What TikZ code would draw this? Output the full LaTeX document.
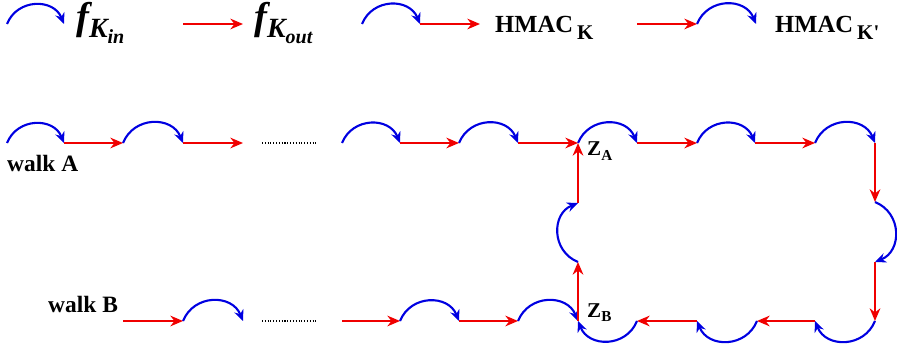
\documentclass[tikz,border=0pt]{standalone}
\usepackage{fontspec}
\setmainfont{Liberation Serif}
\usetikzlibrary{arrows.meta}
\definecolor{hopblue}{RGB}{0,0,225}
\definecolor{stepred}{RGB}{240,0,0}
\newcommand{\lowsub}[1]{\raisebox{-0.45ex}{\scalebox{0.72}{#1}}}
\newcommand{\keysub}[1]{\raisebox{-0.6ex}{\scalebox{0.85}{#1}}}

\begin{document}
\begin{tikzpicture}[x=0.03cm, y=-0.03cm]
        \useasboundingbox (0,0) rectangle (897,345);
        \begin{scope}
            % legend points
            \coordinate (l0) at (7,24);
            \coordinate (l1) at (64,24);
            \coordinate (l2) at (183,24);
            \coordinate (l3) at (243,24);
            \coordinate (l4) at (362,24);
            \coordinate (l5) at (420,24);
            \coordinate (l6) at (480,24);
            \coordinate (l7) at (637,24);
            \coordinate (l8) at (697,24);
            \coordinate (l9) at (756,24);
            % walk A
            \coordinate (a0) at (7,143);
            \coordinate (a1) at (64,143);
            \coordinate (a2) at (123,143);
            \coordinate (a3) at (183,143);
            \coordinate (a4) at (243,143);
            \coordinate (a5) at (342,143);
            \coordinate (a6) at (400,143);
            \coordinate (a7) at (459,143);
            \coordinate (a8) at (518,143);
            \coordinate (zA) at (578,143);
            \coordinate (a10) at (637,143);
            \coordinate (a11) at (697,143);
            \coordinate (a12) at (755,143);
            \coordinate (a13) at (815,143);
            \coordinate (a14) at (875,143);
            % right side and bottom
            \coordinate (r1) at (875,202);
            \coordinate (r2) at (875,262);
            \coordinate (c0) at (875,321);
            \coordinate (c1) at (815,321);
            \coordinate (c2) at (757,321);
            \coordinate (c3) at (697,321);
            \coordinate (c4) at (637,321);
            \coordinate (m1) at (578,203);
            \coordinate (m2) at (578,262);
            % walk B
            \coordinate (b0) at (123,321);
            \coordinate (b1) at (183,321);
            \coordinate (b2) at (243,321);
            \coordinate (b3) at (342,321);
            \coordinate (b4) at (400,321);
            \coordinate (b5) at (459,321);
            \coordinate (b6) at (518,321);
            \coordinate (zB) at (578,321);
            % dots
            \coordinate (dA0) at (262,143);
            \coordinate (dA1) at (318,143);
            \coordinate (dB0) at (262,321);
            \coordinate (dB1) at (318,321);
        \end{scope}
        \begin{scope}
            \tikzstyle{every node}=[inner sep=0pt, anchor=base west, text=black, font=\bfseries\fontsize{21}{25}\selectfont]
            \node[font=\bfseries\itshape\fontsize{33}{36}\selectfont] (fin) at (76,30) {f\lowsub{K\lowsub{in}}};
            \node[font=\bfseries\itshape\fontsize{33}{36}\selectfont] (fout) at (254,30) {f\lowsub{K\lowsub{out}}};
            \node (hk) at (495,33) {HMAC\,\keysub{K}};
            \node (hk2) at (775,33) {HMAC\,\keysub{K\textquotesingle}};
            \node[font=\bfseries\fontsize{20}{24}\selectfont] (wa) at (7,172) {walk A};
            \node[font=\bfseries\fontsize{20}{24}\selectfont] (wb) at (48,312) {walk B};
            \node[font=\bfseries\fontsize{18}{21}\selectfont] (za) at (587,156) {Z\lowsub{A}};
            \node[font=\bfseries\fontsize{18}{21}\selectfont] (zb) at (587,317) {Z\lowsub{B}};
        \end{scope}
        \begin{scope}
            \tikzstyle{every edge}=[draw, hopblue, line width=1.8pt, bend left=68, looseness=1.25, -{Stealth[length=3.3mm,width=2.9mm]}]
            \path
            (l0) edge (l1)
            (l4) edge (l5)
            (l8) edge (l9)
            (a0) edge (a1)
            (a2) edge (a3)
            (a5) edge (a6)
            (a7) edge (a8)
            (zA) edge (a10)
            (a11) edge (a12)
            (a13) edge (a14)
            (r1) edge (r2)
            (c0) edge (c1)
            (c2) edge (c3)
            (c4) edge (zB)
            (m2) edge (m1)
            (b1) edge (b2)
            (b4) edge (b5)
            (b6) edge (zB)
            ;
        \end{scope}
        \begin{scope}
            \tikzstyle{every edge}=[draw, stepred, line width=1.6pt, -{Stealth[length=3.8mm,width=3.2mm]}]
            \path
            (l2) edge (l3)
            (l5) edge (l6)
            (l7) edge (l8)
            (a1) edge (a2)
            (a3) edge (a4)
            (a6) edge (a7)
            (a8) edge (zA)
            (a10) edge (a11)
            (a12) edge (a13)
            (a14) edge (r1)
            (r2) edge (c0)
            (c1) edge (c2)
            (c3) edge (c4)
            (zB) edge (m2)
            (m1) edge (zA)
            (b0) edge (b1)
            (b3) edge (b4)
            (b5) edge (b6)
            ;
        \end{scope}
        \begin{scope}
            \tikzstyle{every edge}=[draw, black, line width=1pt, dash pattern=on 0.9pt off 1.5pt]
            \path
            (dA0) edge (dA1)
            (dB0) edge (dB1)
            ;
        \end{scope}
    \end{tikzpicture}
\end{document}
